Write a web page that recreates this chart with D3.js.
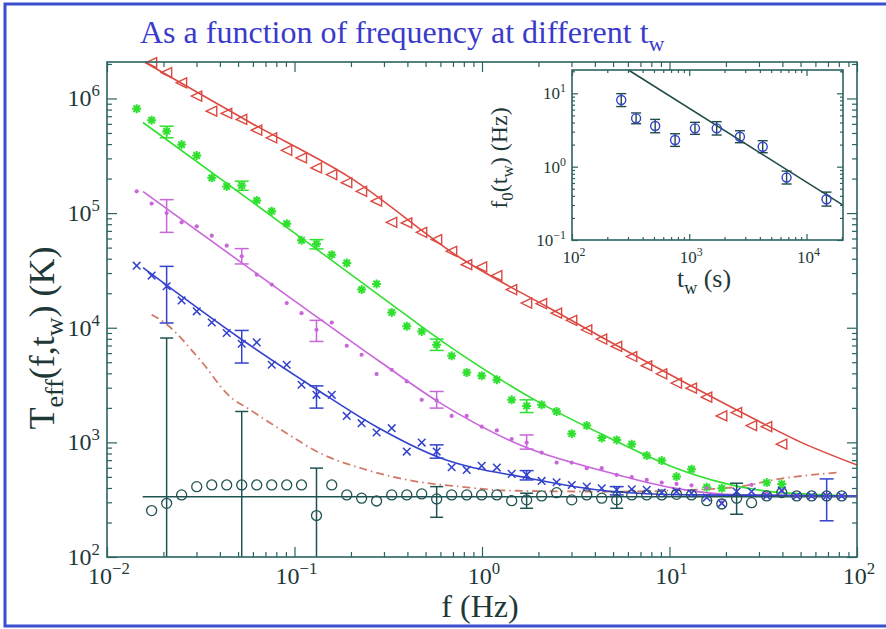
<!DOCTYPE html>
<html>
<head>
<meta charset="utf-8">
<script src="https://cdn.jsdelivr.net/npm/d3@7"></script>
<style>
  body { margin: 0; background: #fff; }
  svg { display: block; }
</style>
</head>
<body>
<svg id="chart" width="886" height="629"></svg>
<script>
// ---- data ----
// common frequency grid (Hz)
const freq = [0.0144, 0.0173, 0.0208, 0.0250, 0.0301, 0.0362, 0.0435, 0.0523, 0.0629, 0.0756,
  0.0909, 0.109, 0.131, 0.158, 0.190, 0.228, 0.274, 0.330, 0.397, 0.477,
  0.573, 0.689, 0.829, 0.996, 1.20, 1.44, 1.73, 2.08, 2.50, 3.01,
  3.62, 4.35, 5.23, 6.29, 7.56, 9.09, 10.9, 13.1, 15.8, 19.0,
  22.8, 27.4, 33.0, 39.7, 47.7, 57.3, 68.9, 82.9];

// Teff (K) per series, aligned with freq
const redTri = [null, 2.05e6, 1.68e6, 1.37e6, 1.05e6, 7.74e5, 7.40e5, 6.56e5, 5.29e5, 4.54e5,
  3.53e5, 3.03e5, 2.48e5, 2.17e5, 1.84e5, 1.55e5, 1.27e5, 8.31e4, 8.20e4, 6.79e4,
  5.87e4, 4.64e4, 3.55e4, 3.39e4, 2.85e4, 2.15e4, 1.64e4, 1.62e4, 1.34e4, 1.16e4,
  9.60e3, 7.96e3, 6.87e3, 5.61e3, 4.66e3, 3.96e3, 3.29e3, 2.97e3, 2.48e3, 1.70e3,
  1.82e3, 1.40e3, 1.37e3, 964, null, null, null, null];
const greenStar = [8.13e5, 6.46e5, 5.18e5, 3.96e5, 3.18e5, 2.03e5, 1.71e5, 1.74e5, 1.29e5, 1.04e5,
  8.09e4, 5.79e4, 5.38e4, 4.34e4, 3.67e4, 2.15e4, 2.41e4, 1.36e4, 1.03e4, 9.29e3,
  7.11e3, 5.69e3, 4.07e3, 3.81e3, 3.52e3, 2.35e3, 2.08e3, 2.13e3, 1.86e3, 1.19e3,
  1.40e3, 1.09e3, 1.05e3, 964, 767, 693, 503, 583, 406, 398,
  null, null, 446, 434, null, null, null, null];
const magentaDot = [1.55e5, 1.21e5, 1.00e5, 8.31e4, 7.67e4, 6.36e4, 5.20e4, 4.20e4, 2.90e4, 2.38e4,
  1.64e4, 1.34e4, 9.60e3, 1.11e4, 6.96e3, 5.81e3, 3.94e3, 4.30e3, 3.40e3, 2.35e3,
  2.32e3, 1.70e3, 1.70e3, 1.37e3, 1.27e3, 1.07e3, 996, 815, 666, 666,
  595, 595, 520, 497, 470, 446, 434, 422, 400, 300,
  null, 426, 355, 375, 341, 341, 341, 341];
const blueX = [3.48e4, 2.85e4, 2.30e4, 1.73e4, 1.39e4, 1.11e4, 9.00e3, 7.25e3, 7.45e3, 4.75e3,
  4.75e3, 3.18e3, 2.60e3, 2.60e3, 1.70e3, 1.47e3, 1.22e3, 1.33e3, 831, 996,
  831, 607, 575, 624, 603, 531, 520, 461, 449, 425,
  411, 398, 385, 390, 385, 364, 372, 360, 330, 294,
  372, 372, 341, 379, 341, 341, 341, 341];
const blackCirc = [null, 254, 294, 348, 411, 425, 425, 425, 425, 425,
  425, 425, 230, 425, 348, 326, 308, 348, 348, 355,
  321, 348, 348, 348, 348, 310, 315, 341, 364, 315,
  348, 326, 315, 348, 348, 348, 352, 348, 310, 290,
  326, 298, 341, 365, 341, 341, 341, 341];

// error bars: [freq index, low, high]
const errGreen = [[2, 4.54e5, 5.73e5], [7, 1.58e5, 1.90e5], [12, 4.87e4, 5.87e4], [20, 6.34e3, 7.96e3], [26, 1.82e3, 2.35e3]];
const errMagenta = [[2, 6.79e4, 1.31e5], [7, 3.60e4, 4.90e4], [12, 7.59e3, 1.16e4], [20, 1.99e3, 2.78e3], [26, 873, 1.16e3]];
const errBlue = [[2, 1.10e4, 3.43e4], [7, 4.92e3, 9.47e3], [12, 1.99e3, 3.11e3], [20, 728, 951], [26, 470, 567], [32, 348, 411], [46, 207, 480]];
const errBlack = [[2, 100, 8.13e3], [7, 100, 1.86e3], [12, 100, 596], [20, 222, 411], [26, 266, 360], [32, 266, 370], [40, 236, 440]];

// fitted curves [f, Teff]
const fitRed = [[0.01596, 2.06e6], [0.058, 6.17e5], [0.198, 2.04e5], [0.764, 4.08e4], [2.31, 1.47e4], [7.87, 4.85e3], [26.9, 1.67e3], [49.7, 1.01e3], [100, 635]];
const fitGreen = [[0.01556, 6.17e5], [0.058, 1.29e5], [0.304, 1.76e4], [0.597, 7.85e3], [2.04, 2.21e3], [4.64, 1.12e3], [10.4, 611], [19.3, 443], [35.6, 370], [100, 341]];
const fitMagenta = [[0.01556, 1.54e5], [0.0946, 1.83e4], [0.286, 5.05e3], [0.597, 2.21e3], [1.74, 896], [4.64, 552], [10.4, 401], [23.8, 348], [100, 341]];
const fitBlue = [[0.01556, 3.34e4], [0.0525, 7.85e3], [0.132, 2.88e3], [0.275, 1.36e3], [0.597, 733], [1.74, 490], [4.64, 377], [12.9, 348], [100, 341]];
const fitFlat = [[0.0155, 335], [100, 335]];
const dashCurve = [[0.0173, 1.30e4], [0.01995, 1.13e4], [0.0313, 5.26e3], [0.0453, 2.51e3], [0.058, 1.92e3], [0.0908, 1.20e3],
  [0.137, 805], [0.243, 575], [0.449, 455], [0.764, 411], [1.36, 380], [4.62, 372], [12.9, 385], [23.8, 411], [35.8, 470], [78, 545]];

// inset: f0(tw)
const tw = [263, 352, 512, 757, 1119, 1714, 2704, 4230, 6760, 14800];
const f0 = [8.1, 4.56, 3.58, 2.31, 3.33, 3.33, 2.56, 1.87, 0.71, 0.36];
const f0Lo = [6.6, 3.85, 2.90, 1.89, 2.76, 2.70, 2.12, 1.55, 0.58, 0.29];
const f0Hi = [9.9, 5.40, 4.41, 2.81, 4.02, 4.11, 3.09, 2.26, 0.87, 0.45];
const insetFit = [[303, 20.8], [20470, 0.299]];

const xMajor = [1e-2, 1e-1, 1, 10, 100];
const yMajor = [1e2, 1e3, 1e4, 1e5, 1e6];
const insetXMajor = [1e2, 1e3, 1e4];
const insetYMajor = [0.1, 1, 10];

// ---- styling ----
const serif = 'Liberation Serif, DejaVu Serif, serif';
const axisColor = '#2b6262';
const textColor = '#1e3838';
const cRed = '#dc4a42', cGreen = '#2fe02f', cMagenta = '#c966da', cBlue = '#3342cc', cBlack = '#1f5252';

const svg = d3.select('#chart').attr('font-family', serif);

// outer blue border (top, left, bottom)
svg.append('path')
  .attr('d', 'M886,4 H5 V626 H886')
  .attr('fill', 'none')
  .attr('stroke', '#3a4fd0')
  .attr('stroke-width', 3);

// title
const title = svg.append('text')
  .attr('x', 140).attr('y', 43)
  .attr('font-family', serif)
  .attr('font-size', 32)
  .attr('fill', '#3a3acb')
  .text('As a function of frequency at different t');
title.append('tspan').attr('dy', 8).attr('font-size', 22).text('w');

const x = d3.scaleLog().domain([1e-2, 1e2]).range([107, 857]);
const y = d3.scaleLog().domain([1e2, 2.08e6]).range([557, 62]);

function isMajor(v) {
  const l = Math.log10(v);
  return Math.abs(l - Math.round(l)) < 1e-6;
}

function drawFrame(g, xs, ys, xMaj, yMaj, bigT, smallT) {
  const [x0, x1] = xs.range();
  const [y0, y1] = ys.range();
  const xMin = xs.ticks().filter(v => !isMajor(v));
  const yMin = ys.ticks().filter(v => !isMajor(v));
  const axes = [
    [d3.axisBottom(xs), `translate(0,${y0})`, xMaj, xMin],
    [d3.axisTop(xs), `translate(0,${y1})`, xMaj, xMin],
    [d3.axisLeft(ys), `translate(${x0},0)`, yMaj, yMin],
    [d3.axisRight(ys), `translate(${x1},0)`, yMaj, yMin]
  ];
  axes.forEach(([ax, tr, maj, min]) => {
    [[maj, bigT], [min, smallT]].forEach(([vals, len]) => {
      g.append('g')
        .attr('transform', tr)
        .call(ax.tickValues(vals).tickSize(-len).tickFormat(''))
        .call(s => s.select('.domain').remove())
        .selectAll('line')
        .attr('stroke', axisColor)
        .attr('stroke-width', 1.2);
    });
  });
  g.append('rect')
    .attr('x', x0).attr('y', y1)
    .attr('width', x1 - x0).attr('height', y0 - y1)
    .attr('fill', 'none')
    .attr('stroke', axisColor)
    .attr('stroke-width', 1.6);
}

function powLabel(g, px, py, v, size, anchor) {
  const e = Math.round(Math.log10(v));
  const t = g.append('text')
    .attr('x', px).attr('y', py)
    .attr('font-family', serif)
    .attr('font-size', size)
    .attr('text-anchor', anchor)
    .attr('fill', textColor);
  t.append('tspan').text('10');
  t.append('tspan')
    .attr('dy', -size * 0.42)
    .attr('font-size', size * 0.7)
    .text(e < 0 ? '\u2212' + (-e) : String(e));
}

// ---- main plot ----
const main = svg.append('g');

const line = d3.line()
  .x(d => x(d[0]))
  .y(d => y(d[1]))
  .curve(d3.curveMonotoneX);

function pts(vals) {
  return freq.map((f, i) => [f, vals[i]]).filter(d => d[1] != null);
}

// fitted curves
main.append('path').attr('d', line(fitFlat)).attr('fill', 'none').attr('stroke', cBlack).attr('stroke-width', 1.4);
main.append('path').attr('d', line(dashCurve)).attr('fill', 'none').attr('stroke', '#d27a6a')
  .attr('stroke-width', 1.8).attr('stroke-dasharray', '8,4,1.5,4');
[[fitRed, cRed], [fitGreen, cGreen], [fitMagenta, cMagenta], [fitBlue, cBlue]].forEach(([d, c]) => {
  main.append('path')
    .attr('d', line(d))
    .attr('fill', 'none')
    .attr('stroke', c)
    .attr('stroke-width', 1.6);
});

// error bars
function errorBars(list, color, cap) {
  const g = main.append('g').attr('stroke', color).attr('stroke-width', 1.5);
  list.forEach(([i, lo, hi]) => {
    const cx = x(freq[i]);
    g.append('line').attr('x1', cx).attr('x2', cx).attr('y1', y(lo)).attr('y2', y(hi));
    g.append('line').attr('x1', cx - cap).attr('x2', cx + cap).attr('y1', y(hi)).attr('y2', y(hi));
    if (lo > 100) {
      g.append('line').attr('x1', cx - cap).attr('x2', cx + cap).attr('y1', y(lo)).attr('y2', y(lo));
    }
  });
}
errorBars(errBlack, cBlack, 6.5);
errorBars(errGreen, cGreen, 7);
errorBars(errMagenta, cMagenta, 7);
errorBars(errBlue, cBlue, 7);

// markers
main.append('g').selectAll('circle')
  .data(pts(blackCirc)).join('circle')
  .attr('cx', d => x(d[0])).attr('cy', d => y(d[1])).attr('r', 5)
  .attr('fill', 'none').attr('stroke', cBlack).attr('stroke-width', 1.3);

main.append('g').selectAll('path')
  .data(pts(redTri)).join('path')
  .attr('transform', d => `translate(${x(d[0])},${y(d[1])})`)
  .attr('d', 'M-5.5,0 L5,-5 L5,5 Z')
  .attr('fill', 'none').attr('stroke', cRed).attr('stroke-width', 1.4);

main.append('g').selectAll('path')
  .data(pts(greenStar)).join('path')
  .attr('transform', d => `translate(${x(d[0])},${y(d[1])})`)
  .attr('d', 'M-4.5,0 H4.5 M0,-4.5 V4.5 M-3.2,-3.2 L3.2,3.2 M-3.2,3.2 L3.2,-3.2')
  .attr('fill', 'none').attr('stroke', cGreen).attr('stroke-width', 2);

main.append('g').selectAll('circle')
  .data(pts(magentaDot)).join('circle')
  .attr('cx', d => x(d[0])).attr('cy', d => y(d[1])).attr('r', 2.1)
  .attr('fill', cMagenta);

main.append('g').selectAll('path')
  .data(pts(blueX)).join('path')
  .attr('transform', d => `translate(${x(d[0])},${y(d[1])})`)
  .attr('d', 'M-3.8,-3.8 L3.8,3.8 M-3.8,3.8 L3.8,-3.8')
  .attr('fill', 'none').attr('stroke', cBlue).attr('stroke-width', 1.5);

drawFrame(main, x, y, xMajor, yMajor, 10, 5);

// tick labels
xMajor.forEach(v => powLabel(main, x(v) + 2, 584, v, 24, 'middle'));
yMajor.forEach(v => powLabel(main, 100, y(v) + 8, v, 24, 'end'));

// axis titles
main.append('text')
  .attr('x', 480).attr('y', 617)
  .attr('font-family', serif)
  .attr('font-size', 32)
  .attr('text-anchor', 'middle')
  .attr('fill', textColor)
  .text('f (Hz)');

const yt = main.append('text')
  .attr('transform', 'translate(54,338) rotate(-90)')
  .attr('font-family', serif)
  .attr('font-size', 36)
  .attr('text-anchor', 'middle')
  .attr('fill', textColor);
yt.append('tspan').text('T');
yt.append('tspan').attr('dy', 9).attr('font-size', 26).text('eff');
yt.append('tspan').attr('dy', -9).text('(f,t');
yt.append('tspan').attr('dy', 9).attr('font-size', 26).text('w');
yt.append('tspan').attr('dy', -9).text(') (K)');

// ---- inset ----
const xi = d3.scaleLog().domain([100, 20470]).range([572, 843]);
const yi = d3.scaleLog().domain([0.1, 20.8]).range([240, 70]);
const inset = svg.append('g');

inset.append('rect')
  .attr('x', 572).attr('y', 70).attr('width', 271).attr('height', 170)
  .attr('fill', '#fff');

inset.append('path')
  .attr('d', d3.line().x(d => xi(d[0])).y(d => yi(d[1]))(insetFit))
  .attr('fill', 'none').attr('stroke', '#1f4a4a').attr('stroke-width', 1.5);

const ieb = inset.append('g').attr('stroke', '#1f4a4a').attr('stroke-width', 1.4);
tw.forEach((t, i) => {
  const cx = xi(t);
  ieb.append('line').attr('x1', cx).attr('x2', cx).attr('y1', yi(f0Lo[i])).attr('y2', yi(f0Hi[i]));
  ieb.append('line').attr('x1', cx - 5).attr('x2', cx + 5).attr('y1', yi(f0Lo[i])).attr('y2', yi(f0Lo[i]));
  ieb.append('line').attr('x1', cx - 5).attr('x2', cx + 5).attr('y1', yi(f0Hi[i])).attr('y2', yi(f0Hi[i]));
});
inset.append('g').selectAll('circle')
  .data(tw.map((t, i) => [t, f0[i]])).join('circle')
  .attr('cx', d => xi(d[0])).attr('cy', d => yi(d[1])).attr('r', 4.5)
  .attr('fill', 'none').attr('stroke', cBlue).attr('stroke-width', 1.4);

drawFrame(inset, xi, yi, insetXMajor, insetYMajor, 6, 3);

insetXMajor.forEach(v => powLabel(inset, xi(v) + 2, 263, v, 17, 'middle'));
insetYMajor.forEach(v => powLabel(inset, 566, yi(v) + 6, v, 17, 'end'));

const it = inset.append('text')
  .attr('x', 704).attr('y', 287)
  .attr('font-family', serif)
  .attr('font-size', 26)
  .attr('text-anchor', 'middle')
  .attr('fill', textColor);
it.append('tspan').text('t');
it.append('tspan').attr('dy', 7).attr('font-size', 18).text('w');
it.append('tspan').attr('dy', -7).text(' (s)');

const iy = inset.append('text')
  .attr('transform', 'translate(507,158) rotate(-90)')
  .attr('font-family', serif)
  .attr('font-size', 24)
  .attr('text-anchor', 'middle')
  .attr('fill', textColor);
iy.append('tspan').text('f');
iy.append('tspan').attr('dy', 6).attr('font-size', 17).text('0');
iy.append('tspan').attr('dy', -6).text('(t');
iy.append('tspan').attr('dy', 6).attr('font-size', 17).text('w');
iy.append('tspan').attr('dy', -6).text(') (Hz)');
</script>
</body>
</html>
